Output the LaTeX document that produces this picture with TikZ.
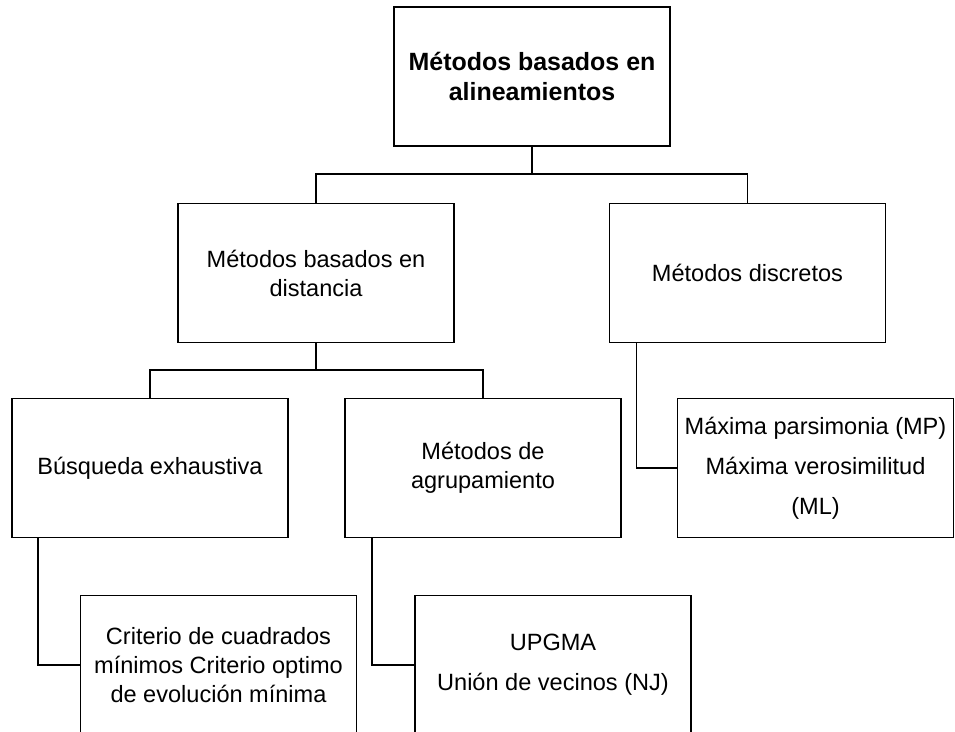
\documentclass[tikz,border=0pt]{standalone}
\usepackage{fontspec}
\setmainfont{Liberation Sans}
\usepackage{tikz}
\usetikzlibrary{shapes}

\begin{document}
\begin{tikzpicture}[box/.style={shape=rectangle,draw=black,align=center,line width=1.1pt,minimum width=5.52cm,minimum height=2.78cm,inner sep=0pt,font=\fontsize{13.4}{16.5}\selectfont},tallbox/.style={box,font=\fontsize{13.4}{22.8}\selectfont},link/.style={draw=black,line width=0.85pt}]\useasboundingbox (0,0) rectangle (19.1,14.64);
\node[box,font=\bfseries\fontsize{14.2}{17}\selectfont] (0) at (10.64,13.11) {Métodos basados en\\alineamientos};
\node[box] (1) at (6.32,9.18) {Métodos basados en\\distancia};
\node[box] (2) at (14.95,9.18) {Métodos discretos};
\node[box] (3) at (3.0,5.28) {Búsqueda exhaustiva};
\node[box] (4) at (9.66,5.28) {Métodos de\\agrupamiento};
\node[tallbox] (5) at (16.31,5.28) {Máxima parsimonia (MP)\\Máxima verosimilitud\\(ML)};
\node[box] (6) at (4.37,1.34) {Criterio de cuadrados\\mínimos Criterio optimo\\de evolución mínima};
\node[tallbox] (7) at (11.06,1.34) {UPGMA\\Unión de vecinos (NJ)};

\coordinate (j1) at (10.64,11.16);
\coordinate (j2) at (6.32,7.24);
\draw[link] (0.south) -- (j1);
\draw[link] (j1) -| (1.north);
\draw[link] (j1) -| (2.north);
\draw[link] (1.south) -- (j2);
\draw[link] (j2) -| (3.north);
\draw[link] (j2) -| (4.north);
\draw[link] ([xshift=0.56cm]2.south west) |- (5.west);
\draw[link] ([xshift=0.54cm]3.south west) |- (6.west);
\draw[link] ([xshift=0.56cm]4.south west) |- (7.west);

\end{tikzpicture}
\end{document}
